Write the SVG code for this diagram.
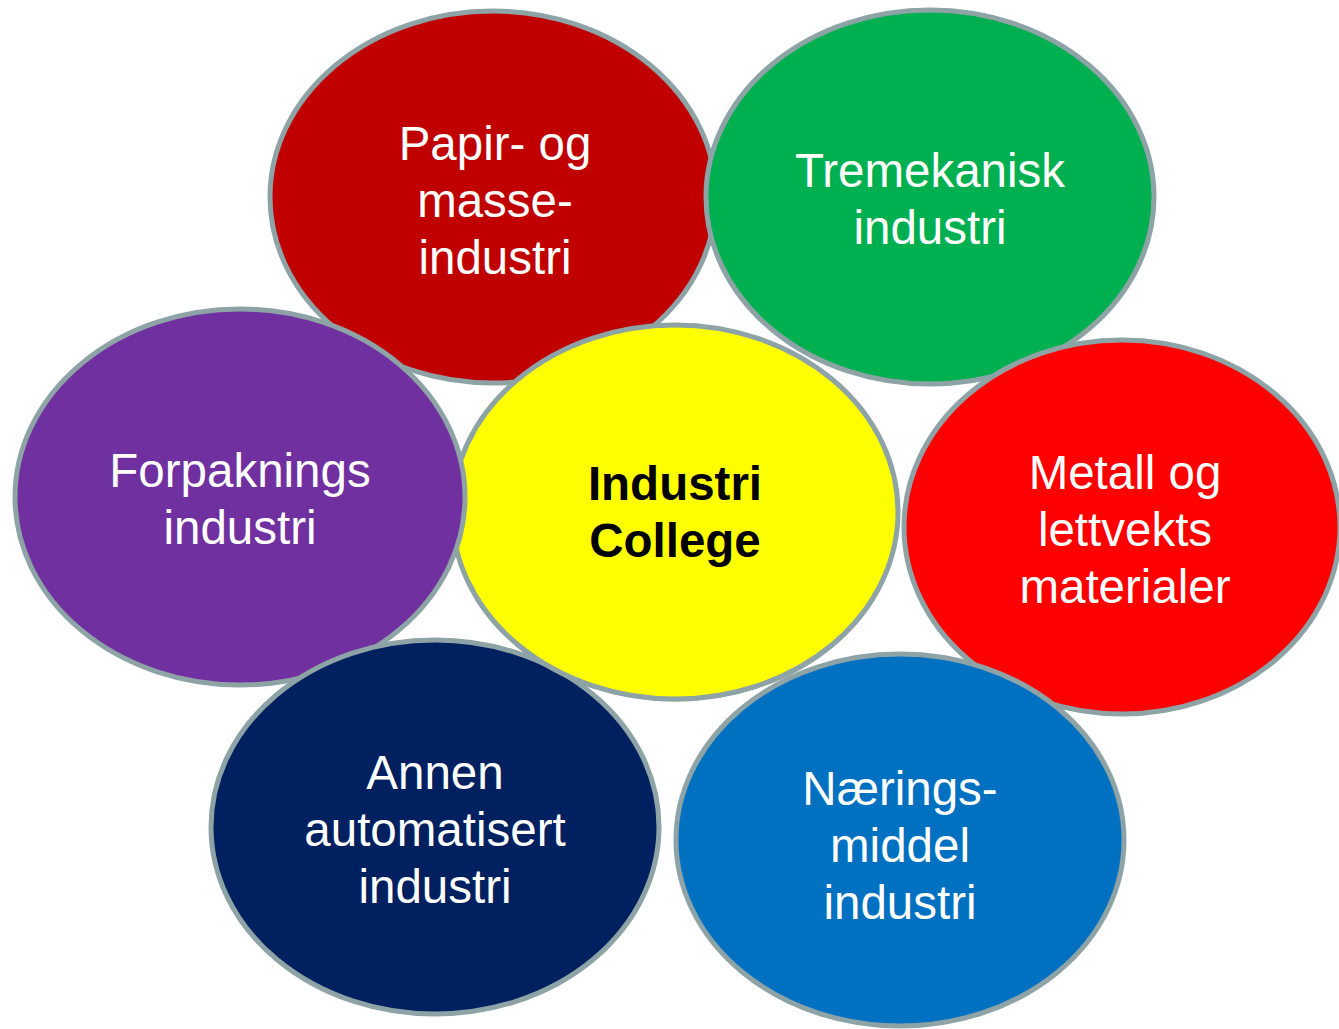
<svg xmlns="http://www.w3.org/2000/svg" width="1339" height="1029" viewBox="0 0 1339 1029">
<style>
.e{stroke:#8DA3A6;stroke-width:5}
.t{font-family:"Liberation Sans",Arial,sans-serif;font-size:47.5px;fill:#FFFFFF;text-anchor:middle}
.c{font-family:"Liberation Sans",Arial,sans-serif;font-size:47.5px;font-weight:bold;fill:#000000;text-anchor:middle}
</style>
<defs>
<clipPath id="low"><rect x="0" y="600" width="1339" height="429"/></clipPath>
</defs>
<rect width="1339" height="1029" fill="#FFFFFF"/>
<g id="papir">
<ellipse class="e" cx="493" cy="197" rx="223" ry="186" fill="#C00000"/>
<text class="t" x="495" y="160">Papir- og</text>
<text class="t" x="495" y="217">masse-</text>
<text class="t" x="495" y="274">industri</text>
</g>
<g id="tremekanisk">
<ellipse class="e" cx="930" cy="197" rx="224" ry="187" fill="#00B050"/>
<text class="t" x="930" y="187">Tremekanisk</text>
<text class="t" x="930" y="244">industri</text>
</g>
<g id="college">
<ellipse class="e" cx="675" cy="512" rx="223" ry="187" fill="#FFFF00"/>
</g>
<g id="forpaknings">
<ellipse class="e" cx="240" cy="497" rx="225" ry="188" fill="#7030A0"/>
<text class="t" x="240" y="487">Forpaknings</text>
<text class="t" x="240" y="544">industri</text>
</g>
<g id="annen">
<ellipse class="e" cx="435" cy="827" rx="224" ry="187" fill="#002060"/>
<text class="t" x="435" y="789">Annen</text>
<text class="t" x="435" y="846">automatisert</text>
<text class="t" x="435" y="903">industri</text>
</g>
<g id="metall">
<ellipse class="e" cx="1122" cy="527" rx="218" ry="187" fill="#FF0000"/>
<text class="t" x="1125" y="489">Metall og</text>
<text class="t" x="1125" y="546">lettvekts</text>
<text class="t" x="1125" y="603">materialer</text>
</g>
<g id="naerings">
<ellipse class="e" cx="900" cy="840" rx="224" ry="186" fill="#0070C0"/>
<text class="t" x="900" y="805">Nærings-</text>
<text class="t" x="900" y="862">middel</text>
<text class="t" x="900" y="919">industri</text>
</g>
<g id="college-front">
<ellipse class="e" cx="675" cy="512" rx="223" ry="187" fill="#FFFF00" clip-path="url(#low)"/>
<text class="c" x="675" y="500">Industri</text>
<text class="c" x="675" y="557">College</text>
</g>
<g id="connectors"/>
</svg>
